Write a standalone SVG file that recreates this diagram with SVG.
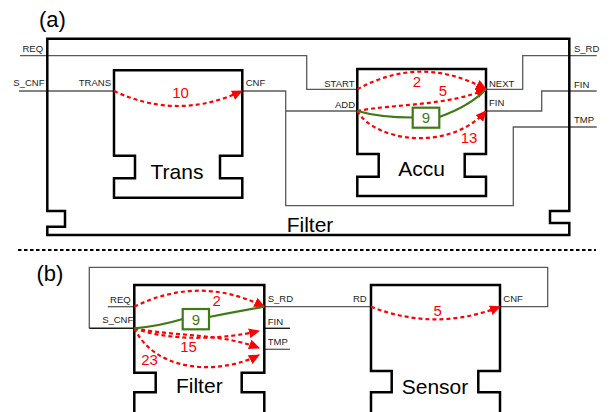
<svg xmlns="http://www.w3.org/2000/svg" width="613" height="412" viewBox="0 0 613 412">
<defs>
<marker id="ah" markerUnits="userSpaceOnUse" markerWidth="11" markerHeight="10" refX="10" refY="5" orient="auto">
<path d="M0,0 L11,5 L0,10 Z" fill="#ff0000"/>
</marker>
<style>
.box{fill:none;stroke:#000;stroke-width:2.5;stroke-linejoin:miter}
.wire{fill:none;stroke:#5a5a5a;stroke-width:1.3}
.wireb{fill:none;stroke:#1a1a1a;stroke-width:1.4}
.arcA{fill:none;stroke:#ff0000;stroke-width:2.2;stroke-dasharray:4 3;marker-end:url(#ah)}
.grn{fill:none;stroke:#3f7a16;stroke-width:2.2}
.gbox{fill:#fff;stroke:#3f7a16;stroke-width:2.2}
.port{font-family:"Liberation Sans",Arial,sans-serif;font-size:9.5px;fill:#222}
.big{font-family:"Liberation Sans",Arial,sans-serif;font-size:21px;fill:#000;text-anchor:middle}
.num{font-family:"Liberation Sans",Arial,sans-serif;font-size:15px;fill:#ff0000;text-anchor:middle}
.gnum{font-family:"Liberation Sans",Arial,sans-serif;font-size:15px;fill:#3f7a16;text-anchor:middle}
.tag{font-family:"Liberation Sans",Arial,sans-serif;font-size:22px;fill:#000}
</style>
</defs>
<rect width="613" height="412" fill="#fff"/>

<text class="tag" x="39" y="27">(a)</text>
<text class="tag" x="36.5" y="281">(b)</text>
<line x1="18" y1="250" x2="596" y2="250" stroke="#000" stroke-width="2" stroke-dasharray="3.5 2.5"/>

<g id="connectors">
<path class="wire" d="M20,55.7 H306.7 V89.3 H357.3"/>
<path class="wire" d="M19,91 H114"/>
<path class="wire" d="M242.3,91 H285.7 V205.7 H513.3 V127 H596.7"/>
<path class="wire" d="M285.7,111 H357.3"/>
<path class="wire" d="M486,89.3 H522.7 V55.7 H596.7"/>
<path class="wire" d="M486,111 H541.7 V91 H596.7"/>
<path class="wire" d="M89.3,328.3 V267.3 H547.7 V306.7 H500"/>
<path class="wireb" d="M89.3,328.3 H134.3"/>
<path class="wire" d="M107.7,306.7 H134.3"/>
<path class="wire" d="M264.3,306.7 H371"/>
<path class="wireb" d="M264.3,328.3 H290"/>
<path class="wire" d="M264.3,349.3 H290"/>
</g>

<g id="filter-a">
<path class="box" d="M47.3,38.7 H569.3 V211 H550 V223 H569.3 V235 H47.3 V226.7 H65 V211 H47.3 Z"/>
<text class="big" x="310" y="231.5">Filter</text>
<text class="port" x="22.5" y="51.7">REQ</text>
<text class="port" x="13.3" y="86">S_CNF</text>
<text class="port" x="574" y="51.7">S_RD</text>
<text class="port" x="574" y="87.5">FIN</text>
<text class="port" x="574" y="123">TMP</text>
</g>

<g id="trans">
<path class="box" d="M114,70.3 H242.3 V155.7 H220 V178.3 H242.3 V197.7 H114 V178.3 H135 V155.7 H114 Z"/>
<text class="big" x="177" y="179">Trans</text>
<text class="port" x="111" y="86" text-anchor="end">TRANS</text>
<text class="port" x="245.7" y="86">CNF</text>
<path class="arcA" d="M114,91 Q178,121 242,91"/>
<text class="num" x="180.5" y="97.5">10</text>
</g>

<g id="accu">
<path class="box" d="M357.3,69 H486 V154 H464.7 V176.7 H486 V196 H357.3 V176.7 H378.7 V154 H357.3 Z"/>
<text class="big" x="421.7" y="176">Accu</text>
<text class="port" x="354.5" y="87.3" text-anchor="end">START</text>
<text class="port" x="355" y="108.3" text-anchor="end">ADD</text>
<text class="port" x="489" y="87.3">NEXT</text>
<text class="port" x="489" y="106">FIN</text>
<path class="arcA" d="M357.3,89.3 Q421.7,54 486,89.3"/>
<text class="num" x="417" y="86.5">2</text>
<path class="arcA" d="M357.3,111 C392,104 448,106 486,89.3"/>
<text class="num" x="443" y="96">5</text>
<path class="arcA" d="M357.3,111 C375,142 450,152 486,111"/>
<text class="num" x="469" y="143">13</text>
<path class="grn" d="M357.3,111 Q380,117.5 412.7,117.5"/>
<path class="grn" d="M439.3,117 Q470,106 486,89.3"/>
<rect class="gbox" x="412.7" y="107.7" width="26.6" height="20"/>
<text class="gnum" x="426" y="123.3">9</text>
</g>

<g id="filter-b">
<path class="box" d="M134.3,415 V392.3 H155.7 V372.7 H134.3 V285 H264.3 V372.7 H241.7 V392.3 H264.3 V415"/>
<text class="big" x="199.3" y="393.3">Filter</text>
<text class="port" x="130.7" y="303.3" text-anchor="end">REQ</text>
<text class="port" x="133.3" y="322.7" text-anchor="end">S_CNF</text>
<text class="port" x="267.7" y="301.7">S_RD</text>
<text class="port" x="267.7" y="325">FIN</text>
<text class="port" x="267.7" y="345">TMP</text>
<path class="arcA" d="M134.3,306.7 Q199.3,274.7 264.3,306.7"/>
<text class="num" x="216.7" y="306">2</text>
<path class="arcA" d="M134.3,328.3 C172,342 225,339 259,331"/>
<path class="arcA" d="M134.3,328.3 C178,337 220,333 259,348"/>
<text class="num" x="188.5" y="352">15</text>
<path class="arcA" d="M134.3,328.3 C158,376 225,373 259,355"/>
<text class="num" x="149.5" y="364.5">23</text>
<path class="grn" d="M134.3,328.3 Q160,326 182.7,319"/>
<path class="grn" d="M209,317 Q240,311 264.3,306.7"/>
<rect class="gbox" x="182.7" y="309" width="26.3" height="20.3"/>
<text class="gnum" x="195.8" y="324.7">9</text>
</g>

<g id="sensor">
<path class="box" d="M371,415 V392.3 H391.7 V371 H371 V285 H500 V371 H478.3 V392.3 H500 V415"/>
<text class="big" x="435" y="393.5">Sensor</text>
<text class="port" x="366.7" y="301.7" text-anchor="end">RD</text>
<text class="port" x="503.3" y="301.7">CNF</text>
<path class="arcA" d="M371,306.7 Q435.5,332 500,306.7"/>
<text class="num" x="437.7" y="316">5</text>
</g>
</svg>
